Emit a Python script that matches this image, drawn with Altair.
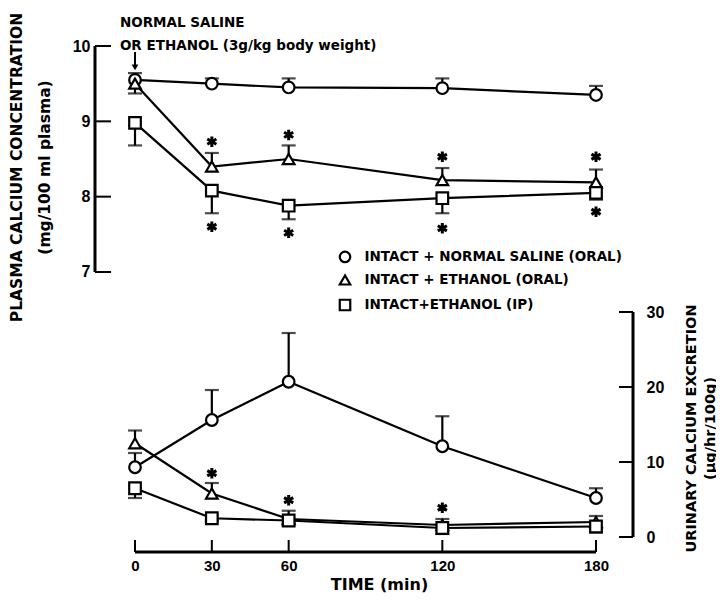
import altair as alt
import pandas as pd

# ---------------- data ----------------
times = [0, 30, 60, 120, 180]
series = ["INTACT + NORMAL SALINE (ORAL)", "INTACT + ETHANOL (ORAL)", "INTACT+ETHANOL (IP)"]
shapes = ["circle", "triangle-up", "square"]

# plasma calcium (mg/100 ml plasma): mean and end of error bar
plasma_saline = [9.55, 9.50, 9.45, 9.44, 9.35]
plasma_saline_err = [9.64, 9.57, 9.57, 9.57, 9.47]
plasma_eth_oral = [9.50, 8.40, 8.50, 8.22, 8.19]
plasma_eth_oral_err = [9.37, 8.58, 8.68, 8.38, 8.36]
plasma_eth_ip = [8.98, 8.08, 7.88, 7.98, 8.05]
plasma_eth_ip_err = [8.68, 7.78, 7.70, 7.78, 7.96]

# urinary calcium excretion (ug/hr/100g): mean and end of error bar
urine_saline = [9.3, 15.6, 20.7, 12.1, 5.2]
urine_saline_err = [11.2, 19.6, 27.2, 16.1, 6.5]
urine_eth_oral = [12.5, 5.8, 2.4, 1.6, 2.0]
urine_eth_oral_err = [14.2, 7.2, 3.5, 2.4, 2.8]
urine_eth_ip = [6.5, 2.5, 2.2, 1.2, 1.4]
urine_eth_ip_err = [5.2, 2.2, 1.8, 0.4, 0.6]

# significance asterisks
plasma_star_t = [30, 60, 120, 180, 30, 60, 120, 180]
plasma_star_v = [8.73, 8.82, 8.53, 8.53, 7.60, 7.52, 7.58, 7.80]
urine_star_t = [30, 60, 120]
urine_star_v = [8.5, 4.9, 3.9]

plasma_ticks = [7, 8, 9, 10]
urine_ticks = [0, 10, 20, 30]

annot_lines = ["NORMAL SALINE", "OR ETHANOL (3g/kg body weight)"]
annot_t = [-5.9, -5.9]
annot_v = [10.305, 10.0]
arrow_t = [0]
arrow_top = [9.92]
arrow_bottom = [9.74]
arrow_head = [9.715]

# legend key placement (time units / plasma units)
legend_sym_t = [82.0, 82.0, 82.0]
legend_txt_t = [89.6, 89.6, 89.6]
legend_v = [7.20, 6.894, 6.562]

# ---------------- tables ----------------
def long_table(means, errs):
    rows = []
    for s, m, e in zip(series, means, errs):
        for t, mv, ev in zip(times, m, e):
            rows.append({"series": s, "t": t, "v": mv, "e": ev})
    return pd.DataFrame(rows)

plasma_df = long_table([plasma_saline, plasma_eth_oral, plasma_eth_ip],
                       [plasma_saline_err, plasma_eth_oral_err, plasma_eth_ip_err])
urine_df = long_table([urine_saline, urine_eth_oral, urine_eth_ip],
                      [urine_saline_err, urine_eth_oral_err, urine_eth_ip_err])
pstar_df = pd.DataFrame({"t": plasma_star_t, "v": plasma_star_v})
ustar_df = pd.DataFrame({"t": urine_star_t, "v": urine_star_v})
annot_df = pd.DataFrame({"t": annot_t, "v": annot_v, "label": annot_lines})
arrow_df = pd.DataFrame({"t": arrow_t, "v": arrow_top, "e": arrow_bottom, "h": arrow_head})
legend_df = pd.DataFrame({"series": series, "t": legend_sym_t, "tt": legend_txt_t,
                          "v": legend_v})
ptick_df = pd.DataFrame({"v": plasma_ticks})
utick_df = pd.DataFrame({"v": urine_ticks})
xtick_df = pd.DataFrame({"t": times})
xline_df = pd.DataFrame({"t": [times[0]], "t2": [times[-1]]})
paxis_df = pd.DataFrame({"v": [plasma_ticks[0]], "e": [plasma_ticks[-1]]})
uaxis_df = pd.DataFrame({"v": [urine_ticks[0]], "e": [urine_ticks[-1]]})

FONT = "DejaVu Sans"
NUMFONT = "Liberation Sans"
W, H = 538, 506

x_scale = alt.Scale(domain=[-15.62, 194.45], nice=False, zero=False)
x_axis = alt.Axis(values=times, domain=False, ticks=False, grid=False,
                  labelFont=NUMFONT, labelFontSize=15, labelPadding=6,
                  labelFontWeight="bold", labelColor="black",
                  title="TIME (min)", titleFont=FONT, titleFontWeight="bold",
                  titleColor="black",
                  titleFontSize=16, titleX=284, titleY=40,
                  titleBaseline="bottom", titleAlign="center")

def X(field="t"):
    return alt.X(f"{field}:Q", scale=x_scale, axis=x_axis, title="TIME (min)")

P_TITLE = ["PLASMA CALCIUM CONCENTRATION", "(mg/100 ml plasma)"]
p_scale = alt.Scale(domain=[3.283, 10], nice=False, zero=False)
p_axis = alt.Axis(orient="left", values=plasma_ticks, domain=False, ticks=False,
                  grid=False, labelFont=NUMFONT, labelFontSize=16, labelPadding=5,
                  labelFontWeight="bold", labelColor="black",
                  title=P_TITLE, titleFont=FONT, titleFontWeight="bold",
                  titleColor="black",
                  titleFontSize=15.5, titleAngle=-90, titleX=-86, titleY=121,
                  titleBaseline="top", titleAlign="center", titleLineHeight=28)

def PY(field="v"):
    return alt.Y(f"{field}:Q", scale=p_scale, axis=p_axis, title=P_TITLE)

u_scale = alt.Scale(domain=[-2.0, 65.47], nice=False, zero=False)
U_TITLE = ["URINARY CALCIUM EXCRETION", "(\u00b5g/hr/100g)"]
u_axis = alt.Axis(orient="right", values=urine_ticks, domain=False, ticks=False,
                  grid=False, labelFont=NUMFONT, labelFontSize=16, labelPadding=13,
                  labelFontWeight="bold", labelColor="black",
                  title=U_TITLE, titleFont=FONT, titleFontWeight="bold",
                  titleColor="black", titleFontSize=14.5, titleAngle=-90,
                  titleX=51, titleY=382, titleBaseline="top", titleAlign="center",
                  titleLineHeight=19)

def UY(field="v"):
    return alt.Y(f"{field}:Q", scale=u_scale, axis=u_axis, title=U_TITLE)

shape_scale = alt.Scale(domain=series, range=shapes)
STAR = "M0,-1L0,1M-0.87,-0.5L0.87,0.5M-0.87,0.5L0.87,-0.5"

def panel(df, star_df, Y):
    line = alt.Chart(df).mark_line(color="black", strokeWidth=2.2).encode(
        x=X(), y=Y(), detail="series:N")
    err = alt.Chart(df).mark_rule(color="black", strokeWidth=2.2).encode(
        x=X(), y=Y("v"), y2="e:Q")
    cap = alt.Chart(df).mark_tick(color="black", orient="horizontal", size=14,
                                  thickness=2.2).encode(x=X(), y=Y("e"))
    pts = alt.Chart(df).mark_point(fill="white", stroke="black",
                                   strokeWidth=2.2, opacity=1, size=135).encode(
        x=X(), y=Y(), shape=alt.Shape("series:N", scale=shape_scale, legend=None))
    stars = alt.Chart(star_df).mark_point(shape=STAR, size=110, stroke="black",
                                          strokeWidth=3, opacity=1).encode(
        x=X(), y=Y())
    return [line, err, cap, pts, stars]

# plasma panel extras
p_axis_line = alt.Chart(paxis_df).mark_rule(color="black", strokeWidth=3).encode(
    x=alt.value(0), y=PY("v"), y2="e:Q")
p_tick_rules = alt.Chart(ptick_df).mark_rule(color="black", strokeWidth=2).encode(
    x=alt.value(0), x2=alt.value(16), y=PY("v"))
annot = alt.Chart(annot_df).mark_text(align="left", baseline="middle", font=FONT,
                                      fontWeight="bold", fontSize=13.5,
                                      color="black").encode(
    x=X(), y=PY(), text="label:N")
arrow_shaft = alt.Chart(arrow_df).mark_rule(color="black", strokeWidth=2).encode(
    x=X(), y=PY("v"), y2="e:Q")
arrow_tip = alt.Chart(arrow_df).mark_point(shape="triangle-down", filled=True,
                                           color="black", size=45,
                                           opacity=1).encode(x=X(), y=PY("h"))
legend_sym = alt.Chart(legend_df).mark_point(fill="white", stroke="black",
                                             strokeWidth=2.2, opacity=1,
                                             size=110).encode(
    x=X(), y=PY(), shape=alt.Shape("series:N", scale=shape_scale, legend=None))
legend_txt = alt.Chart(legend_df).mark_text(align="left", baseline="middle",
                                            font=FONT, fontWeight="bold",
                                            fontSize=13.5, color="black").encode(
    x=X("tt"), y=PY(), text="series:N")

plasma = alt.layer(*panel(plasma_df, pstar_df, PY), p_axis_line, p_tick_rules,
                   annot, arrow_shaft, arrow_tip, legend_sym, legend_txt)

# urinary panel extras
u_axis_line = alt.Chart(uaxis_df).mark_rule(color="black", strokeWidth=3).encode(
    x=alt.value(W), y=UY("v"), y2="e:Q")
u_tick_rules = alt.Chart(utick_df).mark_rule(color="black", strokeWidth=2).encode(
    x=alt.value(W - 14), x2=alt.value(W), y=UY("v"))
x_line = alt.Chart(xline_df).mark_rule(color="black", strokeWidth=3).encode(
    x=X("t"), x2="t2:Q", y=alt.value(H))
x_tick_rules = alt.Chart(xtick_df).mark_rule(color="black", strokeWidth=2).encode(
    x=X("t"), y=alt.value(H - 12), y2=alt.value(H))

urine = alt.layer(*panel(urine_df, ustar_df, UY), u_axis_line, u_tick_rules,
                  x_line, x_tick_rules)

chart = alt.layer(plasma, urine).resolve_scale(y="independent").properties(
    width=W, height=H,
    background="white",
    autosize=alt.AutoSizeParams(type="none"),
    padding={"left": 87, "top": 38, "right": 83, "bottom": 42},
).configure_view(strokeWidth=0, stroke="transparent").configure_axis(
    labelFontWeight="bold", titleFontWeight="bold",
    labelColor="black", titleColor="black", grid=False,
    domain=False, ticks=False,
)

chart.save("out.html", embed_options={"renderer": "svg", "actions": False})
